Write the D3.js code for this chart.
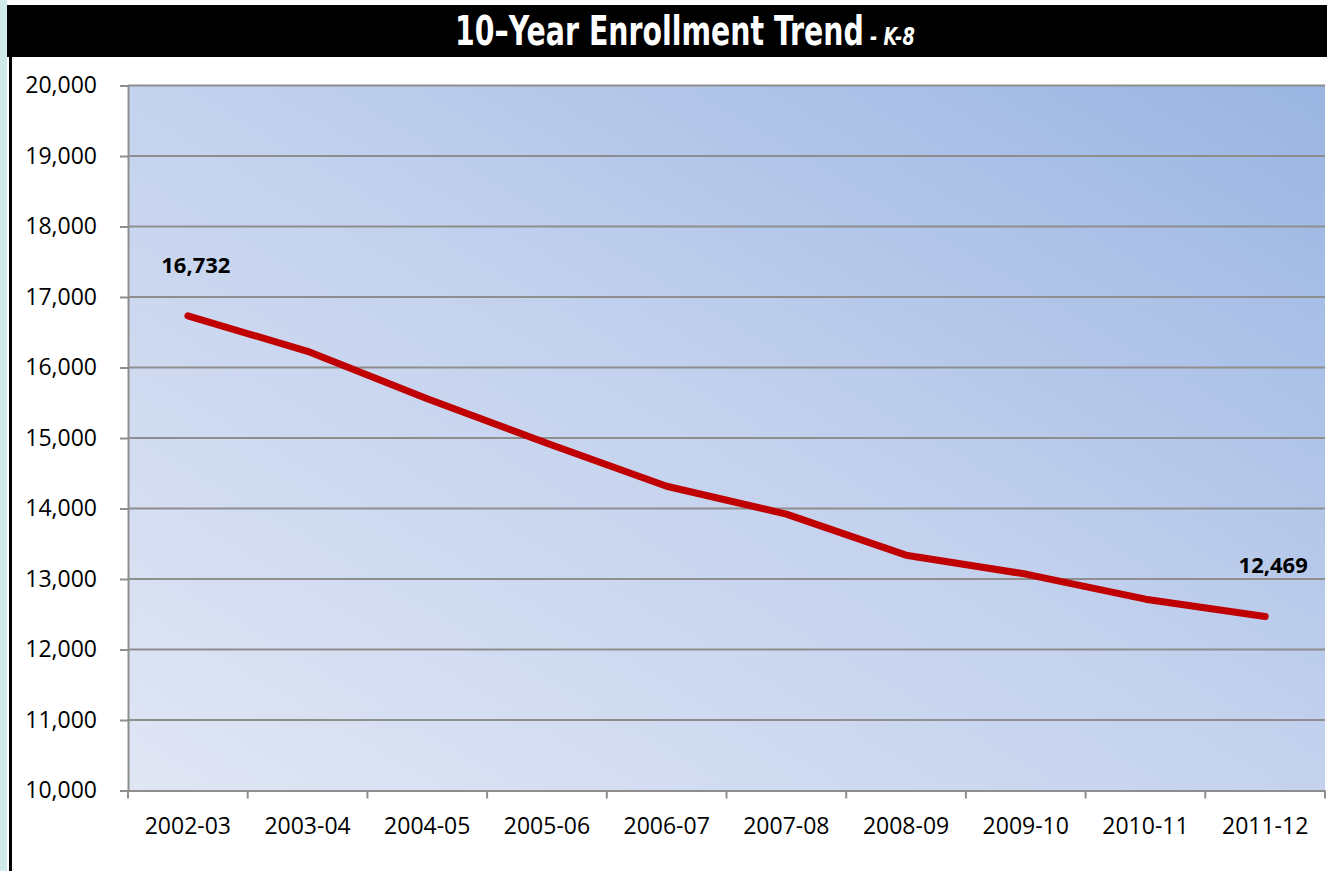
<!DOCTYPE html>
<html>
<head>
<meta charset="utf-8">
<script src="https://cdn.jsdelivr.net/npm/d3@7"></script>
<style>
  html, body { margin: 0; padding: 0; background: #fff; }
  svg { display: block; }
</style>
</head>
<body>
<svg id="chart" width="1327" height="871"></svg>
<script>
// ---- data ----
const categories = ["2002-03","2003-04","2004-05","2005-06","2006-07","2007-08","2008-09","2009-10","2010-11","2011-12"];
const enrollment = [16732, 16230, 15556, 14926, 14316, 13920, 13338, 13070, 12714, 12469];
const yTicks = [10000, 11000, 12000, 13000, 14000, 15000, 16000, 17000, 18000, 19000, 20000];
const labeledIndexes = [0, 9];
const titleMain = "10–Year Enrollment Trend";
const titleSub = " - K-8";

// ---- layout ----
const W = 1327, H = 871;
const plot = { left: 128, right: 1325, top: 85.5, bottom: 790.5 };
const svg = d3.select("#chart");
const fmt = d3.format(",");

// frame decorations
svg.append("rect").attr("x", 0).attr("y", 0).attr("width", 7).attr("height", H).attr("fill", "#d0e9eb");
svg.append("rect").attr("x", 7).attr("y", 5).attr("width", W - 7).attr("height", 52).attr("fill", "#000");
svg.append("rect").attr("x", 9).attr("y", 57).attr("width", 3).attr("height", H - 57).attr("fill", "#000");

// title (tall condensed look: horizontal compression)
const titleG = svg.append("g");
const title = titleG.append("text")
  .attr("x", 0).attr("y", 0)
  .attr("fill", "#fff")
  .style("font-family", "'DejaVu Sans', sans-serif")
  .style("font-weight", "bold");
const tMain = title.append("tspan").text(titleMain).style("font-size", "40px");
const tSub = title.append("tspan").text(titleSub).style("font-size", "25px").style("font-style", "italic");
const totalLen = title.node().getComputedTextLength();
const sx = 460 / totalLen;
titleG.attr("transform", `translate(455,45) scale(${sx},1)`);

// scales
const x = d3.scaleBand().domain(categories).range([plot.left, plot.right]).padding(0);
const y = d3.scaleLinear().domain([10000, 20000]).range([plot.bottom, plot.top]);

// gradient background
const defs = svg.append("defs");
const grad = defs.append("linearGradient").attr("id", "bg")
  .attr("x1", 0).attr("y1", 1).attr("x2", 1).attr("y2", 0);
grad.append("stop").attr("offset", "0%").attr("stop-color", "#e0e6f4");
grad.append("stop").attr("offset", "50%").attr("stop-color", "#c4d2ee");
grad.append("stop").attr("offset", "100%").attr("stop-color", "#9ab5e2");

svg.append("rect")
  .attr("x", plot.left).attr("y", plot.top)
  .attr("width", plot.right - plot.left).attr("height", plot.bottom - plot.top)
  .attr("fill", "url(#bg)");

// gridlines
svg.append("g").selectAll("line").data(yTicks.filter(d => d !== 10000)).join("line")
  .attr("x1", plot.left).attr("x2", plot.right)
  .attr("y1", d => y(d)).attr("y2", d => y(d))
  .attr("stroke", "#8e8e8e").attr("stroke-width", 2);

// y axis
const yAxis = svg.append("g")
  .attr("transform", `translate(${plot.left},0)`)
  .call(d3.axisLeft(y).tickValues(yTicks).tickFormat(fmt).tickSize(8).tickPadding(23));
yAxis.select(".domain").attr("stroke", "#8e8e8e").attr("stroke-width", 2);
yAxis.selectAll(".tick line").attr("stroke", "#8e8e8e").attr("stroke-width", 2);
yAxis.selectAll("text")
  .attr("fill", "#000")
  .style("font-family", "'Open Sans', sans-serif")
  .style("font-size", "23px");

// x axis
const xAxis = svg.append("g")
  .attr("transform", `translate(0,${plot.bottom})`)
  .call(d3.axisBottom(x).tickSize(0).tickPadding(27));
xAxis.select(".domain").attr("stroke", "#8e8e8e").attr("stroke-width", 2);
xAxis.selectAll("text")
  .attr("fill", "#000")
  .style("font-family", "'Open Sans', sans-serif")
  .style("font-size", "23px");
// tick marks at category boundaries
const boundaries = categories.map(c => x(c)).concat([x(categories[categories.length - 1]) + x.bandwidth()]);
xAxis.append("g").selectAll("line").data(boundaries).join("line")
  .attr("x1", d => d).attr("x2", d => d)
  .attr("y1", 0).attr("y2", 8)
  .attr("stroke", "#8e8e8e").attr("stroke-width", 2);

// line
const line = d3.line()
  .x((d, i) => x(categories[i]) + x.bandwidth() / 2)
  .y(d => y(d));
svg.append("path")
  .datum(enrollment)
  .attr("d", line)
  .attr("fill", "none")
  .attr("stroke", "#c00000")
  .attr("stroke-width", 7)
  .attr("stroke-linecap", "round")
  .attr("stroke-linejoin", "round");

// data labels
svg.append("g").selectAll("text").data(labeledIndexes).join("text")
  .attr("x", i => x(categories[i]) + x.bandwidth() / 2 + 8)
  .attr("y", i => y(enrollment[i]) - 43)
  .attr("text-anchor", "middle")
  .style("font-family", "'Open Sans', sans-serif")
  .style("font-weight", "bold")
  .style("font-size", "22px")
  .attr("fill", "#000")
  .text(i => fmt(enrollment[i]));
</script>
</body>
</html>
